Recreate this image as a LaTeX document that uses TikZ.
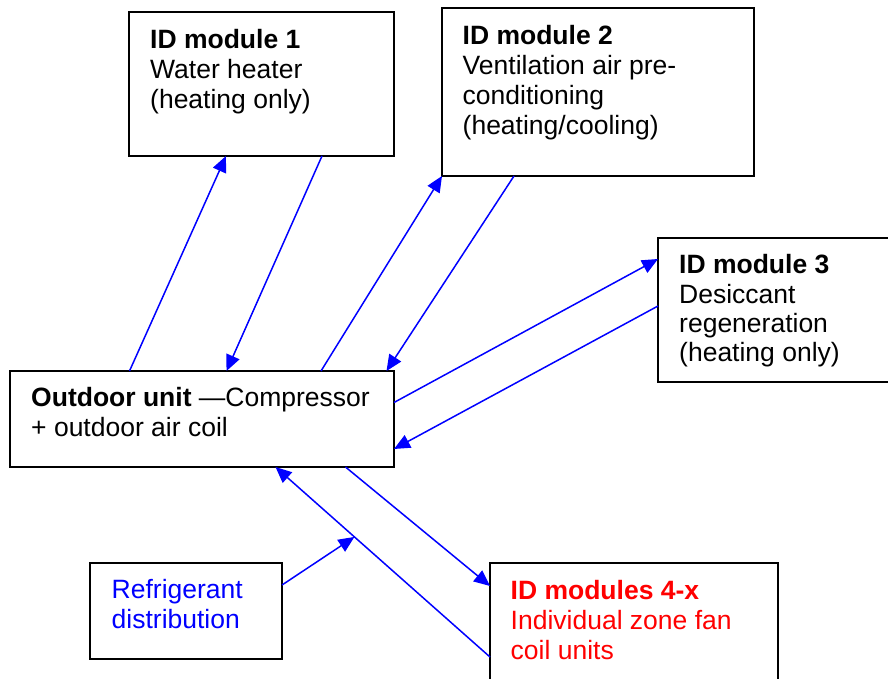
\documentclass[tikz,border=0pt]{standalone}
\usepackage{fontspec}
\setmainfont{Liberation Sans}
\usetikzlibrary{arrows.meta,calc}

\begin{document}
\begin{tikzpicture}[x=1pt,y=-1pt,
  box/.style={draw=black,line width=2pt,rectangle,inner sep=0pt,outer sep=0pt,anchor=north west},
  txt/.style={anchor=base west,align=left,inner sep=0pt,font=\fontsize{26.5}{30}\selectfont},
  flow/.style={draw=blue,line width=1.5pt,-{Triangle[length=16pt,width=14pt]}}]

\useasboundingbox (0,0) rectangle (888,679);

% boxes
\node[box,minimum width=265pt,minimum height=144pt] (m1) at (129,12) {};
\node[box,minimum width=312pt,minimum height=168pt] (m2) at (442,8) {};
\node[box,minimum width=250pt,minimum height=144pt] (m3) at (658,238) {};
\node[box,minimum width=384.5pt,minimum height=96pt] (od) at (9.5,371) {};
\node[box,minimum width=192pt,minimum height=96pt] (rd) at (90,563) {};
\node[box,minimum width=288pt,minimum height=140pt] (m4) at (490,563) {};

% labels (placed by the baseline of their last line)
\node[txt] (t1) at (150,108.5) {\textbf{ID module 1}\\Water heater\\(heating only)};
\node[txt] (t2) at (462.5,134.5) {\textbf{ID module 2}\\Ventilation air pre-\\conditioning\\(heating/cooling)};
\node[txt,font=\fontsize{26.5}{29.3}\selectfont] (t3) at (679,361.7) {\textbf{ID module 3}\\Desiccant\\regeneration\\(heating only)};
\node[txt] (t0) at (31,436.5) {\textbf{Outdoor unit} —Compressor\\+ outdoor air coil};
\node[txt,text=blue] (tr) at (111.5,628.5) {Refrigerant\\distribution};
\node[txt,text=red] (t4) at (510.5,659) {\textbf{ID modules 4-x}\\Individual zone fan\\coil units};

% refrigerant lines
\draw[flow] ($(od.north west)+(120,0)$) -- ($(m1.south west)+(97,0)$);
\draw[flow] ($(m1.south west)+(193,0)$) -- ($(od.north west)+(217,0)$);
\draw[flow] ($(od.north west)+(311.5,0)$) -- (m2.south west);
\draw[flow] ($(m2.south west)+(72,0)$) -- ($(od.north west)+(377,0)$);
\draw[flow] ($(od.north east)+(0,31.5)$) -- ($(m3.north west)+(0,21)$);
\draw[flow] ($(m3.north west)+(0,68)$) -- ($(od.north east)+(0,78)$);
\draw[flow] ($(od.south west)+(336,0)$) -- ($(m4.north west)+(0,23)$);
\coordinate (s8) at ($(m4.north west)+(0,94)$);
\coordinate (e8) at ($(od.south west)+(266,0)$);
\draw[flow] (s8) -- (e8);
\coordinate (j) at ($(s8)!0.632!(e8)$);
\draw[flow] ($(rd.north east)+(0,22)$) -- (j);

\end{tikzpicture}
\end{document}
